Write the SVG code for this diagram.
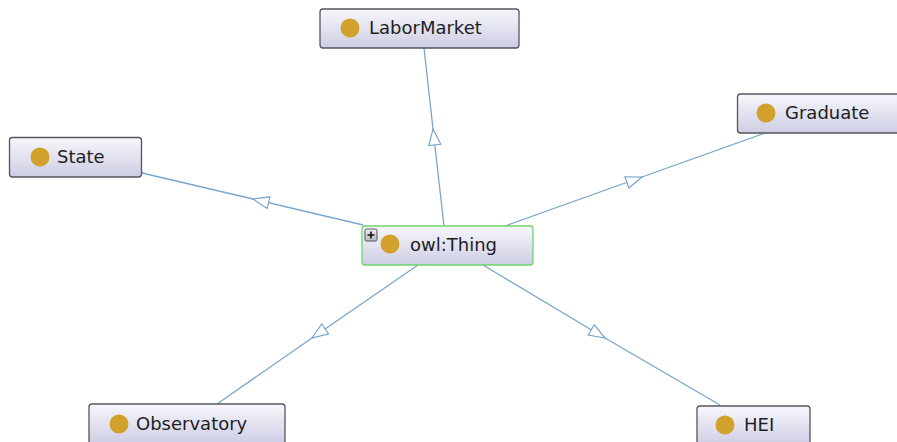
<svg xmlns="http://www.w3.org/2000/svg" width="897" height="442" viewBox="0 0 897 442">
<defs>
<linearGradient id="nodeFill" x1="0" y1="0" x2="0" y2="1">
<stop offset="0" stop-color="#f7f7fc"/>
<stop offset="1" stop-color="#cdcde4"/>
</linearGradient>
<linearGradient id="plusFill" x1="0" y1="0" x2="0" y2="1">
<stop offset="0" stop-color="#f0f0f0"/>
<stop offset="1" stop-color="#b8b8c0"/>
</linearGradient>
<marker id="tri" markerUnits="userSpaceOnUse" markerWidth="18" markerHeight="14" viewBox="-1 -1 18 14" refX="16" refY="6" orient="auto">
<path d="M0,0 L16,6 L0,12 Z" fill="#ffffff" stroke="#7aa6cc" stroke-width="1.2"/>
</marker>
</defs>
<style>
.node rect.box{fill:url(#nodeFill);stroke:#55555f;stroke-width:1.3}
.node rect.root{stroke:#6fd36f}
.dot{fill:#d1a12c}
.lbl{font-family:"DejaVu Sans",sans-serif;font-size:18px;fill:#1e1e1e}
.edge{fill:none;stroke:#7aa6cc;stroke-width:1.3;marker-mid:url(#tri)}
</style>
<rect width="897" height="442" fill="#ffffff"/>
<g id="connectors">
<path class="edge" d="M444,226 L433,129 L424,48"/>
<path class="edge" d="M363,225 L253,199 L142,173"/>
<path class="edge" d="M505,226 L642,177 L765,133"/>
<path class="edge" d="M418,265 L312,338 L217,404"/>
<path class="edge" d="M483,265 L605,338 L720,405"/>
</g>
<g id="node-LaborMarket" class="node">
<rect class="box" x="320" y="9" width="199" height="39" rx="3"/>
<circle class="dot" cx="350" cy="28" r="9.5"/>
<text class="lbl" x="369" y="34">LaborMarket</text>
</g>
<g id="node-State" class="node">
<rect class="box" x="9.5" y="137.5" width="132" height="39.5" rx="3"/>
<circle class="dot" cx="40" cy="157" r="9.5"/>
<text class="lbl" x="57" y="163">State</text>
</g>
<g id="node-Graduate" class="node">
<rect class="box" x="737.5" y="94" width="170" height="39" rx="3"/>
<circle class="dot" cx="766" cy="113" r="9.5"/>
<text class="lbl" x="785" y="119">Graduate</text>
</g>
<g id="node-owlThing" class="node">
<rect class="box root" x="362" y="226" width="171" height="39" rx="3"/>
<rect x="365" y="229" width="12" height="12" rx="1.5" fill="url(#plusFill)" stroke="#555" stroke-width="1"/>
<path d="M367.5,235 H374.5 M371,231.5 V238.5" stroke="#111" stroke-width="1.6"/>
<circle class="dot" cx="390" cy="244" r="9.5"/>
<text class="lbl" x="410" y="251">owl:Thing</text>
</g>
<g id="node-Observatory" class="node">
<rect class="box" x="89" y="404" width="196" height="40" rx="3"/>
<circle class="dot" cx="119" cy="424" r="9.5"/>
<text class="lbl" x="136" y="430">Observatory</text>
</g>
<g id="node-HEI" class="node">
<rect class="box" x="697" y="406" width="113" height="40" rx="3"/>
<circle class="dot" cx="725" cy="425" r="9.5"/>
<text class="lbl" x="744" y="431">HEI</text>
</g>
</svg>
